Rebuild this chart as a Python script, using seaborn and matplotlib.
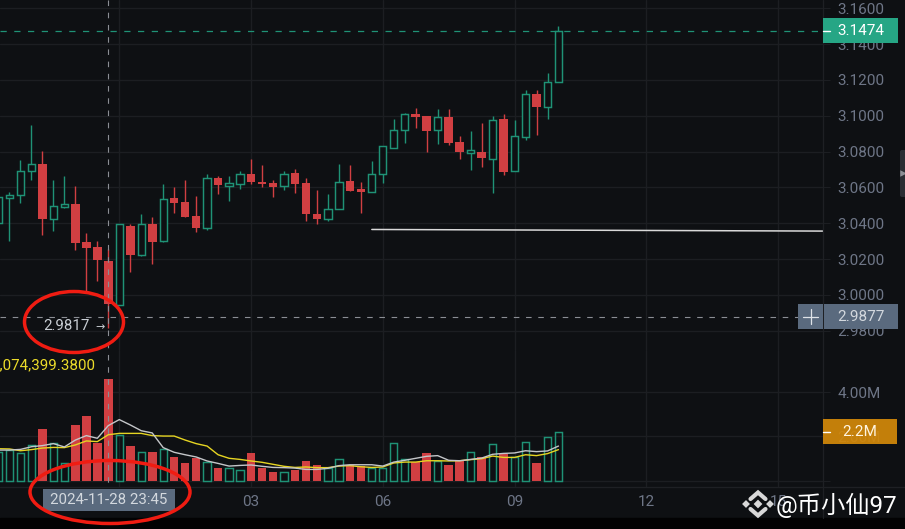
#!/usr/bin/env python
"""Candlestick + volume chart, dark exchange style, with hand drawn circles on top."""

import matplotlib
matplotlib.use("Agg")
import matplotlib.pyplot as plt
from matplotlib.patches import Ellipse, Rectangle, FancyBboxPatch
import pandas as pd
import seaborn as sns

# candle index 0 is the 2024-11-28 23:45 candle under the crosshair
first_index = -10

opens = [3.0400, 3.0543, 3.0558, 3.0691, 3.0733, 3.0424, 3.0488, 3.0505, 3.0293, 3.0265,
         3.0191, 2.9942, 3.0387, 3.0220, 3.0393, 3.0299, 3.0539, 3.0517, 3.0443, 3.0374,
         3.0650, 3.0610, 3.0619, 3.0677, 3.0630, 3.0622, 3.0606, 3.0678, 3.0622, 3.0454,
         3.0424, 3.0480, 3.0636, 3.0590, 3.0577, 3.0675, 3.0820, 3.0919, 3.1008, 3.1001,
         3.0919, 3.0992, 3.0854, 3.0792, 3.0798, 3.0759, 3.0980, 3.0689, 3.0884, 3.1124,
         3.1049, 3.1187]
highs = [3.0562, 3.0573, 3.0751, 3.0951, 3.0802, 3.0644, 3.0663, 3.0605, 3.0348, 3.0299,
         3.0258, 3.0393, 3.0394, 3.0452, 3.0433, 3.0619, 3.0601, 3.0639, 3.0554, 3.0675,
         3.0666, 3.0663, 3.0694, 3.0759, 3.0723, 3.0644, 3.0694, 3.0700, 3.0655, 3.0588,
         3.0563, 3.0733, 3.0723, 3.0629, 3.0746, 3.0832, 3.0984, 3.1014, 3.1042, 3.1001,
         3.1036, 3.1036, 3.0886, 3.0915, 3.0958, 3.0997, 3.1008, 3.0979, 3.1146, 3.1142,
         3.1236, 3.1501]
lows = [3.0372, 3.0301, 3.0511, 3.0640, 3.0334, 3.0355, 3.0486, 3.0252, 3.0008, 3.0076,
        2.9817, 2.9942, 3.0127, 3.0216, 3.0172, 3.0297, 3.0456, 3.0435, 3.0353, 3.0362,
        3.0561, 3.0524, 3.0591, 3.0617, 3.0601, 3.0545, 3.0584, 3.0567, 3.0413, 3.0393,
        3.0413, 3.0480, 3.0582, 3.0456, 3.0577, 3.0623, 3.0820, 3.0847, 3.0934, 3.0798,
        3.0841, 3.0835, 3.0761, 3.0696, 3.0712, 3.0569, 3.0668, 3.0689, 3.0864, 3.0892,
        3.0982, 3.1187]
closes = [3.0545, 3.0558, 3.0692, 3.0733, 3.0424, 3.0497, 3.0505, 3.0289, 3.0263, 3.0192,
          2.9948, 3.0393, 3.0220, 3.0393, 3.0297, 3.0537, 3.0513, 3.0437, 3.0374, 3.0650,
          3.0612, 3.0622, 3.0675, 3.0630, 3.0619, 3.0603, 3.0677, 3.0619, 3.0452, 3.0424,
          3.0482, 3.0629, 3.0582, 3.0575, 3.0677, 3.0832, 3.0923, 3.1007, 3.0993, 3.0917,
          3.0992, 3.0848, 3.0798, 3.0806, 3.0763, 3.0979, 3.0687, 3.0888, 3.1124, 3.1049,
          3.1187, 3.1474]

# volume in millions
volumes = [1.32, 1.38, 1.24, 1.63, 2.34, 1.69, 0.79, 2.52, 2.91, 1.71,
           4.58, 2.08, 1.56, 1.32, 1.32, 1.42, 1.09, 0.81, 1.05, 0.87,
           0.58, 0.57, 0.48, 1.26, 0.60, 0.42, 0.40, 0.49, 0.88, 0.70,
           0.58, 0.97, 0.70, 0.67, 0.60, 0.60, 1.69, 1.00, 0.85, 1.26,
           0.90, 0.72, 0.90, 1.30, 1.09, 1.65, 1.23, 1.06, 1.75, 0.81,
           1.98, 2.19]
vol_ma_short = [1.39, 1.39, 1.42, 1.54, 1.59, 1.68, 1.53, 1.84, 2.04, 1.92,
                2.49, 2.76, 2.52, 2.26, 2.16, 1.50, 1.29, 1.18, 1.08, 0.90,
                0.79, 0.67, 0.70, 0.72, 0.66, 0.61, 0.60, 0.58, 0.52, 0.52,
                0.57, 0.69, 0.73, 0.73, 0.73, 0.67, 0.85, 0.93, 1.02, 1.11,
                1.14, 0.93, 0.91, 0.97, 1.03, 1.20, 1.24, 1.26, 1.36, 1.32,
                1.35, 1.57]
vol_ma_long = [1.45, 1.44, 1.36, 1.41, 1.48, 1.51, 1.50, 1.62, 1.80, 1.77,
               2.08, 2.14, 2.14, 2.14, 2.04, 2.02, 2.02, 1.84, 1.68, 1.57,
               1.18, 1.02, 0.97, 0.90, 0.84, 0.75, 0.66, 0.61, 0.63, 0.60,
               0.60, 0.67, 0.69, 0.64, 0.61, 0.63, 0.81, 0.85, 0.85, 0.91,
               0.91, 0.90, 0.91, 0.96, 1.00, 1.12, 1.06, 1.06, 1.18, 1.14,
               1.23, 1.41]

price_ticks = [2.98, 3.00, 3.02, 3.04, 3.06, 3.08, 3.10, 3.12, 3.14, 3.16]
volume_ticks = [0, 2, 4]
volume_tick_labels = ["", "2.00M", "4.00M"]
time_ticks = [1, 13, 25, 37, 49, 61]
time_tick_labels = ["", "03", "06", "09", "12", "15"]

last_price = 3.1474
cross_price = 2.9877
cross_time = "2024-11-28 23:45"
low_label = "2.9817"
volume_value = "2,074,399.3800"
last_volume = "2.2M"
support_line_x = [24, 65.1]
support_line_y = [3.0365, 3.0356]

BG = "#0e1013"
GRID = "#1c1e22"
UP = "#1f9276"
DOWN = "#d13f42"
TICK = "#6e7687"
TAG_GRAY = "#5a6a7e"
W, H = 905, 529
PANE_SPLIT = 350
PANE_BOTTOM = 487
AXIS_RIGHT = 823
CANDLE_X0 = 108.3
CANDLE_STEP = 10.98
LABEL_SIZE = 11


def style_pane(ax):
    ax.set_facecolor(BG)
    ax.set_xlim(-CANDLE_X0 / CANDLE_STEP, (AXIS_RIGHT - CANDLE_X0) / CANDLE_STEP)
    ax.set_xticks(time_ticks)
    ax.yaxis.tick_right()
    ax.grid(True, color=GRID, linewidth=1.0)
    ax.set_axisbelow(True)
    ax.set_xlabel("")
    ax.set_ylabel("")
    for side in ax.spines:
        ax.spines[side].set_visible(False)
    ax.tick_params(axis="y", length=5, width=0.8, color=GRID, pad=5.5,
                   labelcolor=TICK, labelsize=LABEL_SIZE)


def draw_candles(ax, df):
    ax.vlines(df.loc[df.up, "idx"], df.loc[df.up, "low"], df.loc[df.up, "high"],
              color=UP, linewidth=1.0, zorder=2)
    ax.vlines(df.loc[~df.up, "idx"], df.loc[~df.up, "low"], df.loc[~df.up, "high"],
              color=DOWN, linewidth=1.0, zorder=2)
    up = df[df.up]
    down = df[~df.up]
    ax.bar(up.idx, up.close - up.open, bottom=up.open, width=0.66, facecolor=BG,
           edgecolor=UP, linewidth=1.05, zorder=3)
    ax.bar(down.idx, down.open - down.close, bottom=down.close, width=0.78,
           color=DOWN, linewidth=0, zorder=3)


def draw_volume(ax, df):
    sns.barplot(data=df[~df.up], x="idx", y="volume", native_scale=True, color=DOWN,
                saturation=1, width=0.78, linewidth=0, errorbar=None, ax=ax, zorder=3)
    sns.barplot(data=df[df.up], x="idx", y="volume", native_scale=True, color=UP,
                saturation=1, width=0.66, fill=False, linewidth=1.05, errorbar=None,
                ax=ax, zorder=3)
    sns.lineplot(data=df, x="idx", y="ma_long", color="#e6d522", linewidth=1.0,
                 errorbar=None, ax=ax, zorder=4)
    sns.lineplot(data=df, x="idx", y="ma_short", color="#c4c6c9", linewidth=1.0,
                 errorbar=None, ax=ax, zorder=5)


def draw_overlay(fig):
    # layer in pixel coordinates for the tags, crosshair and the red circles
    ov = fig.add_axes([0, 0, 1, 1], facecolor="none")
    ov.set_xlim(0, W)
    ov.set_ylim(H, 0)
    ov.axis("off")

    ov.add_patch(Rectangle((0, 518), W, 11, color="#020203", zorder=1))
    ov.plot([AXIS_RIGHT, AXIS_RIGHT], [0, 518], color="#1e2024", lw=0.9, zorder=1)
    ov.plot([0, W], [PANE_BOTTOM, PANE_BOTTOM], color="#1e2024", lw=0.9, zorder=1)

    # crosshair
    ov.plot([108, 108], [0, PANE_BOTTOM], color="#8b8e94", lw=0.8, dashes=(5, 6), zorder=6)
    ov.plot([0, 798], [317, 317], color="#8b8e94", lw=0.8, dashes=(5, 6), zorder=6)

    # last price tag
    ov.add_patch(Rectangle((823, 18), 75, 25, color="#26a685", lw=0, zorder=7))
    ov.plot([823, 830], [31, 31], color="#ffffff", lw=1, zorder=8)
    ov.text(861, 31, f"{last_price:.4f}", color="white", ha="center", va="center",
            fontsize=LABEL_SIZE, zorder=8)

    # crosshair price tag and plus button
    ov.add_patch(Rectangle((798, 304), 25, 25, color=TAG_GRAY, lw=0, zorder=7))
    ov.add_patch(Rectangle((824, 304), 74, 25, color=TAG_GRAY, lw=0, zorder=7))
    ov.plot([803, 818], [316.5, 316.5], color="#dfe3e8", lw=0.9, zorder=8)
    ov.plot([810.5, 810.5], [309, 324], color="#dfe3e8", lw=0.9, zorder=8)
    ov.text(861, 317, f"{cross_price:.4f}", color="#d3d8de", ha="center", va="center",
            fontsize=LABEL_SIZE, zorder=8)

    # volume tag, the 2.00M tick label shows faintly through it
    ov.add_patch(Rectangle((823, 419), 74, 25, color="#d2880a", alpha=0.93, lw=0, zorder=7))
    ov.plot([823, 830], [432, 432], color="#ffffff", lw=1, zorder=8)
    ov.text(860, 431.5, last_volume, color="#fff4e0", ha="center", va="center",
            fontsize=LABEL_SIZE, zorder=8)

    # time tag
    ov.add_patch(Rectangle((43, 489), 132, 22, color=TAG_GRAY, lw=0, zorder=7))
    ov.text(109, 500, cross_time, color="#d3d8de", ha="center", va="center",
            fontsize=10.8, zorder=8)

    # low price and volume readout
    ov.text(90, 326, low_label, color="#c9ced4", ha="right", va="center", fontsize=10.8, zorder=8)
    ov.text(105, 327, "→", color="#c9ced4", ha="right", va="center", fontsize=8,
            family=["DejaVu Sans"], zorder=8)
    ov.text(95, 365, volume_value, color="#ecdc2a", ha="right", va="center", fontsize=10.9,
            zorder=8)

    # right side handle
    ov.add_patch(FancyBboxPatch((900, 150), 10, 47, boxstyle="round,pad=0,rounding_size=2",
                                color="#2a2d33", lw=0, zorder=7))
    ov.scatter([902.5], [173], marker=">", s=22, color="#8d9096", linewidths=0, zorder=8)

    # hand drawn circles
    ov.add_patch(Ellipse((74, 322), 99, 61, fill=False, edgecolor="#f01c12", lw=2.5, zorder=9))
    ov.add_patch(Ellipse((110, 492), 160, 63, fill=False, edgecolor="#f01c12", lw=2.5, zorder=9))

    # watermark logo: two chevrons and three small diamonds
    logo = "#d8d8d8"
    ov.plot([750.5, 758, 765.5], [499, 492.5, 499], color=logo, lw=3, solid_joinstyle="miter", zorder=10)
    ov.plot([750.5, 758, 765.5], [509, 515.5, 509], color=logo, lw=3, solid_joinstyle="miter", zorder=10)
    ov.scatter([746, 758, 770], [504, 504, 504], marker="D", s=[16, 20, 16], color=logo,
               linewidths=0, zorder=10)
    ov.text(776, 505.5, "@币小仙97", color="white", ha="left", va="center", fontsize=17.5,
            zorder=10)


def main():
    df = pd.DataFrame({
        "open": opens, "high": highs, "low": lows, "close": closes,
        "volume": volumes, "ma_short": vol_ma_short, "ma_long": vol_ma_long,
    })
    df["idx"] = range(first_index, first_index + len(df))
    df["up"] = df.close >= df.open

    sns.set_theme(style="dark", rc={"figure.facecolor": BG, "axes.facecolor": BG})
    plt.rcParams["font.family"] = ["Roboto", "Noto Sans CJK SC", "DejaVu Sans"]

    fig = plt.figure(figsize=(W / 100, H / 100), dpi=100, facecolor=BG)
    ax_price = fig.add_axes([0, 1 - PANE_SPLIT / H, AXIS_RIGHT / W, PANE_SPLIT / H])
    ax_vol = fig.add_axes([0, 1 - PANE_BOTTOM / H, AXIS_RIGHT / W, (PANE_BOTTOM - PANE_SPLIT) / H])

    draw_candles(ax_price, df)
    ax_price.plot(support_line_x, support_line_y, color="#d9d9d9", linewidth=1.1, zorder=4)
    ax_price.axhline(last_price, color=UP, linewidth=0.9, dashes=(5, 6), zorder=1)
    style_pane(ax_price)
    ax_price.set_ylim(2.9692, 3.16463)
    ax_price.set_yticks(price_ticks)
    ax_price.set_yticklabels([f"{p:.4f}" for p in price_ticks])
    ax_price.tick_params(axis="x", length=0, labelbottom=False)

    draw_volume(ax_vol, df)
    style_pane(ax_vol)
    ax_vol.set_ylim(-0.27, 5.888)
    ax_vol.set_yticks(volume_ticks)
    ax_vol.set_yticklabels(volume_tick_labels)
    ax_vol.set_xticklabels(time_tick_labels)
    ax_vol.tick_params(axis="x", length=0, pad=6, labelcolor=TICK, labelsize=LABEL_SIZE)

    draw_overlay(fig)
    fig.savefig("out.png", dpi=100, facecolor=BG)


if __name__ == "__main__":
    main()
